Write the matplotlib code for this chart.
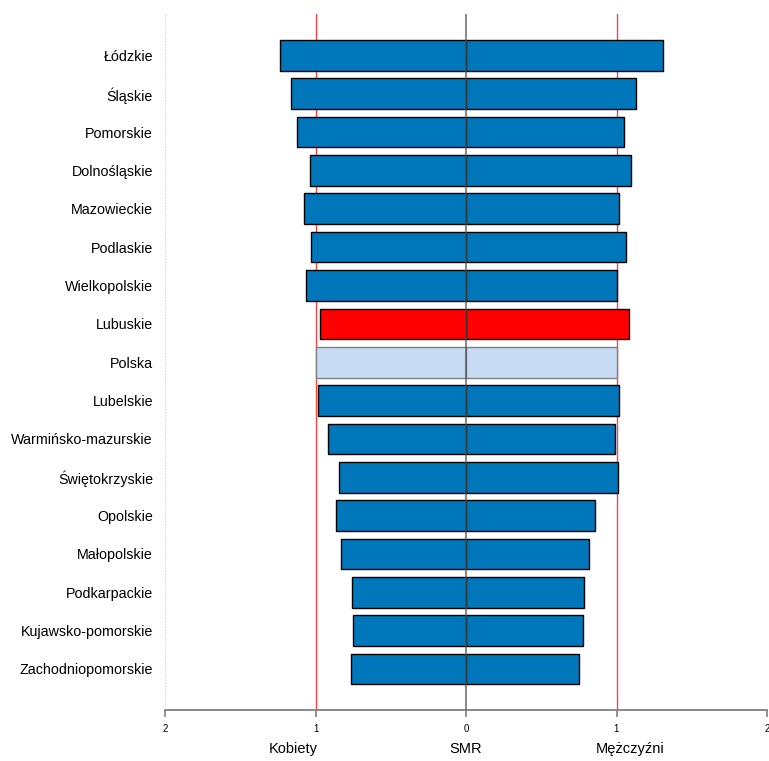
import numpy as np
import matplotlib
matplotlib.use("Agg")
import matplotlib.pyplot as plt

plt.rcParams['font.family'] = ['Liberation Sans', 'DejaVu Sans']

regions = ["Łódzkie", "Śląskie", "Pomorskie", "Dolnośląskie", "Mazowieckie",
           "Podlaskie", "Wielkopolskie", "Lubuskie", "Polska", "Lubelskie",
           "Warmińsko-mazurskie", "Świętokrzyskie", "Opolskie", "Małopolskie",
           "Podkarpackie", "Kujawsko-pomorskie", "Zachodniopomorskie"]
smr_women = [1.234, 1.164, 1.121, 1.038, 1.075, 1.027, 1.064, 0.969, 1.000,
             0.985, 0.914, 0.845, 0.861, 0.830, 0.759, 0.750, 0.766]
smr_men = [1.311, 1.128, 1.048, 1.099, 1.017, 1.066, 1.006, 1.084, 1.000,
           1.019, 0.993, 1.013, 0.858, 0.816, 0.783, 0.778, 0.752]
highlight = "Lubuskie"
reference = "Polska"

BLUE = "#0077bb"
LIGHT = "#c8dbf5"
RED = "#ff0000"

fig = plt.figure(figsize=(7.69, 7.61), dpi=100)
ax = fig.add_axes([165 / 769, 51 / 761, 602 / 769, 696 / 761])

n = len(regions)
ypos = np.arange(n)[::-1]
colors, edges = [], []
for r in regions:
    if r == highlight:
        colors.append(RED); edges.append("black")
    elif r == reference:
        colors.append(LIGHT); edges.append("#808080")
    else:
        colors.append(BLUE); edges.append("black")

women = -np.array(smr_women)
men = np.array(smr_men)
ax.barh(ypos, women, height=0.8, color=colors, edgecolor=edges, linewidth=1.0, zorder=2)
ax.barh(ypos, men, height=0.8, color=colors, edgecolor=edges, linewidth=1.0, zorder=2)

# reference lines
for xv in (-1, 1):
    ax.axvline(xv, color=RED, lw=1.0, alpha=0.75, zorder=1)
ax.axvline(0, color="#555555", lw=1.3, alpha=0.75, zorder=3)
for xv in (-2, 2):
    ax.axvline(xv, color="#cccccc", lw=0.8, ls=":", zorder=0)

ax.set_xlim(-2, 2)
ax.set_ylim(-1.07, n - 1 + 1.08)
ax.set_yticks(ypos)
ax.set_yticklabels(regions, fontsize=10.3)
ax.tick_params(axis="y", length=0, pad=8.6)
ticks = [-2, -1, 0, 1, 2]
ax.set_xticks(ticks)
ax.set_xticklabels([str(abs(t)) for t in ticks], fontsize=7)
ax.tick_params(axis="x", length=5, width=1.2, color="#808080", pad=5)

for s in ("left", "right", "top"):
    ax.spines[s].set_visible(False)
ax.spines["bottom"].set_color("#808080")
ax.spines["bottom"].set_linewidth(1.3)

trans = matplotlib.transforms.blended_transform_factory(ax.transData, fig.transFigure)
for xv, lab in [(-1.15, "Kobiety"), (0, "SMR"), (1.09, "Mężczyźni")]:
    ax.text(xv, 1 - 749 / 761, lab, transform=trans, ha="center", va="center", fontsize=10.5)

fig.savefig("out.png", dpi=100)
